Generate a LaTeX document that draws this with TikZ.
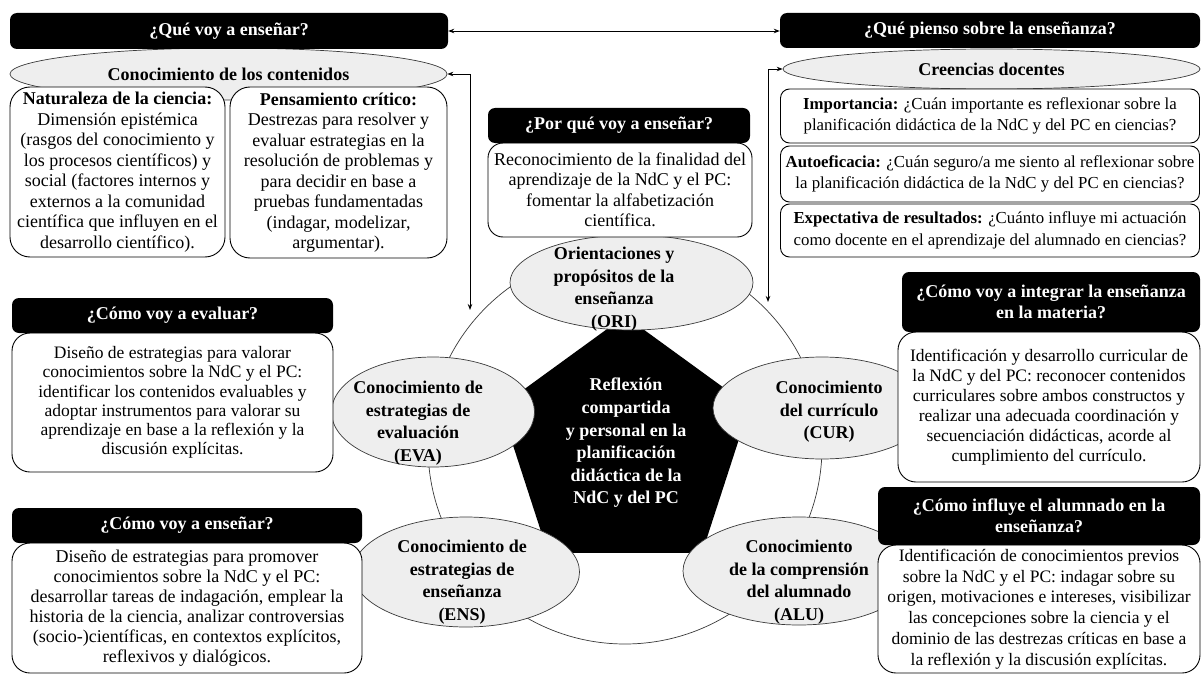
\documentclass[tikz,border=0pt]{standalone}
\usepackage{fontspec}
\setmainfont{Liberation Serif}
\usetikzlibrary{arrows.meta,shapes.geometric}
\definecolor{ellfill}{HTML}{EEEEEE}
\definecolor{ellline}{HTML}{3A3A3A}
\begin{document}
\begin{tikzpicture}[x=1pt,y=-1pt,
  hdr/.style={fill=black, rounded corners=7pt, text=white, font=\fontsize{18}{21}\selectfont\bfseries, align=center, inner sep=0pt},
  bx/.style={draw=black, fill=white, line width=0.9pt, rounded corners=16pt, align=center, inner sep=0pt, font=\fontsize{18}{20.5}\selectfont},
  cbx/.style={bx, rounded corners=9pt, font=\fontsize{16.8}{21.5}\selectfont},
  ell/.style={ellipse, draw=ellline, fill=ellfill, line width=0.7pt, inner sep=0pt},
  etxt/.style={align=center, font=\fontsize{18}{22.5}\selectfont\bfseries, inner sep=0pt},
  conn/.style={line width=0.9pt, {Stealth[length=6pt,width=4.5pt]}-{Stealth[length=6pt,width=4.5pt]}}
]
\useasboundingbox (0,0) rectangle (1201,674);
\fill[white] (0,0) rectangle (1201,674);

% ring and pentagon
\node[circle, draw=ellline, line width=0.7pt, minimum size=394pt, inner sep=0pt] (ring) at (625,447) {};
\node[regular polygon, regular polygon sides=5, minimum size=262pt, inner sep=0pt, fill=black] (pent) at (625,447) {};
\node[etxt, text=white, font=\fontsize{18}{22.6}\selectfont\bfseries] (pentT) at (626,443) {Reflexión\\compartida\\y personal en la\\planificación\\didáctica de la\\NdC y del PC};

% five ellipses
\node[ell, minimum width=243pt, minimum height=95pt] (oriE) at (631.5,282.5) {};
\node[etxt] (oriT) at (614,289) {Orientaciones y\\propósitos de la\\enseñanza\\(ORI)};
\node[ell, minimum width=203pt, minimum height=110pt] (evaE) at (433,412) {};
\node[etxt] (evaT) at (418,423) {Conocimiento de\\estrategias de\\evaluación\\(EVA)};
\node[ell, minimum width=218pt, minimum height=102pt] (curE) at (822,408) {};
\node[etxt] (curT) at (829,412) {Conocimiento\\del currículo\\(CUR)};
\node[ell, minimum width=227pt, minimum height=110pt] (ensE) at (466,572) {};
\node[etxt] (ensT) at (462,582) {Conocimiento de\\estrategias de\\enseñanza\\(ENS)};
\node[ell, minimum width=232pt, minimum height=108pt] (aluE) at (799,571) {};
\node[etxt] (aluT) at (799,582) {Conocimiento\\de la comprensión\\del alumnado\\(ALU)};

% top-left group
\node[ell, minimum width=437pt, minimum height=52pt, font=\fontsize{18}{21}\selectfont\bfseries] (e1) at (228.5,74) {Conocimiento de los contenidos};
\node[bx, minimum width=215pt, minimum height=170pt, rounded corners=20pt] (nat) at (117.5,172) {\textbf{Naturaleza de la ciencia:}\\Dimensión epistémica\\(rasgos del conocimiento y\\los procesos científicos) y\\social (factores internos y\\externos a la comunidad\\científica que influyen en el\\desarrollo científico).};
\node[bx, minimum width=217pt, minimum height=171pt, rounded corners=20pt] (pc) at (338.5,172.5) {\textbf{Pensamiento crítico:}\\Destrezas para resolver y\\evaluar estrategias en la\\resolución de problemas y\\para decidir en base a\\pruebas fundamentadas\\(indagar, modelizar,\\argumentar).};
\node[hdr, minimum width=438pt, minimum height=36pt] (h1) at (229,31) {¿Qué voy a enseñar?};

% top-right group
\node[ell, minimum width=417pt, minimum height=40pt, font=\fontsize{18}{21}\selectfont\bfseries] (e2) at (991.5,69) {Creencias docentes};
\node[cbx, minimum width=419pt, minimum height=54pt] (imp) at (990,116) {\textbf{Importancia:} ¿Cuán importante es reflexionar sobre la\\planificación didáctica de la NdC y del PC en ciencias?};
\node[cbx, minimum width=419pt, minimum height=56pt] (aut) at (990,174) {\textbf{Autoeficacia:} ¿Cuán seguro/a me siento al reflexionar sobre\\la planificación didáctica de la NdC y del PC en ciencias?};
\node[cbx, minimum width=419pt, minimum height=53pt] (exp) at (990,230.5) {\textbf{Expectativa de resultados:} ¿Cuánto influye mi actuación\\como docente en el aprendizaje del alumnado en ciencias?};
\node[hdr, minimum width=420pt, minimum height=35pt] (h2) at (990,30.5) {¿Qué pienso sobre la enseñanza?};

% centre top
\node[bx, minimum width=264pt, minimum height=94pt, rounded corners=15pt] (pq) at (620,190) {Reconocimiento de la finalidad del\\aprendizaje de la NdC y el PC:\\fomentar la alfabetización\\científica.};
\node[hdr, minimum width=262pt, minimum height=35pt] (h3) at (619,125.5) {¿Por qué voy a enseñar?};

% left middle
\node[bx, minimum width=321pt, minimum height=139pt, rounded corners=18pt, font=\fontsize{17.5}{19.3}\selectfont] (evb) at (172.5,402.5) {Diseño de estrategias para valorar\\conocimientos sobre la NdC y el PC:\\identificar los contenidos evaluables y\\adoptar instrumentos para valorar su\\aprendizaje en base a la reflexión y la\\discusión explícitas.};
\node[hdr, minimum width=321pt, minimum height=35pt] (h4) at (172.5,315.5) {¿Cómo voy a evaluar?};

% left bottom
\node[bx, minimum width=350pt, minimum height=130pt, rounded corners=18pt, font=\fontsize{18}{20}\selectfont] (enb) at (187,608) {Diseño de estrategias para promover\\conocimientos sobre la NdC y el PC:\\desarrollar tareas de indagación, emplear la\\historia de la ciencia, analizar controversias\\(socio-)científicas, en contextos explícitos,\\reflexivos y dialógicos.};
\node[hdr, minimum width=350pt, minimum height=35pt] (h5) at (187,525.5) {¿Cómo voy a enseñar?};

% right middle
\node[bx, minimum width=302pt, minimum height=150pt, rounded corners=18pt, font=\fontsize{17.5}{20}\selectfont] (cub) at (1049,407) {Identificación y desarrollo curricular de\\la NdC y del PC: reconocer contenidos\\curriculares sobre ambos constructos y\\realizar una adecuada coordinación y\\secuenciación didácticas, acorde al\\cumplimiento del currículo.};
\node[hdr, minimum width=298pt, minimum height=60pt] (h6) at (1051,302) {¿Cómo voy a integrar la enseñanza\\en la materia?};

% right bottom
\node[bx, minimum width=322pt, minimum height=128pt, rounded corners=18pt, font=\fontsize{17.5}{20.7}\selectfont] (alb) at (1039,609) {Identificación de conocimientos previos\\sobre la NdC y el PC: indagar sobre su\\origen, motivaciones e intereses, visibilizar\\las concepciones sobre la ciencia y el\\dominio de las destrezas críticas en base a\\la reflexión y la discusión explícitas.};
\node[hdr, minimum width=322pt, minimum height=58pt] (h7) at (1039,516) {¿Cómo influye el alumnado en la\\enseñanza?};

% connectors
\coordinate (la) at (470,310);
\coordinate (ra) at (768,302);
\draw[conn] (h1.east) -- (h1.east -| h2.west);
\draw[conn] (e1.east) -| (la);
\draw[conn] (ra) |- (e2.west);
\end{tikzpicture}
\end{document}
